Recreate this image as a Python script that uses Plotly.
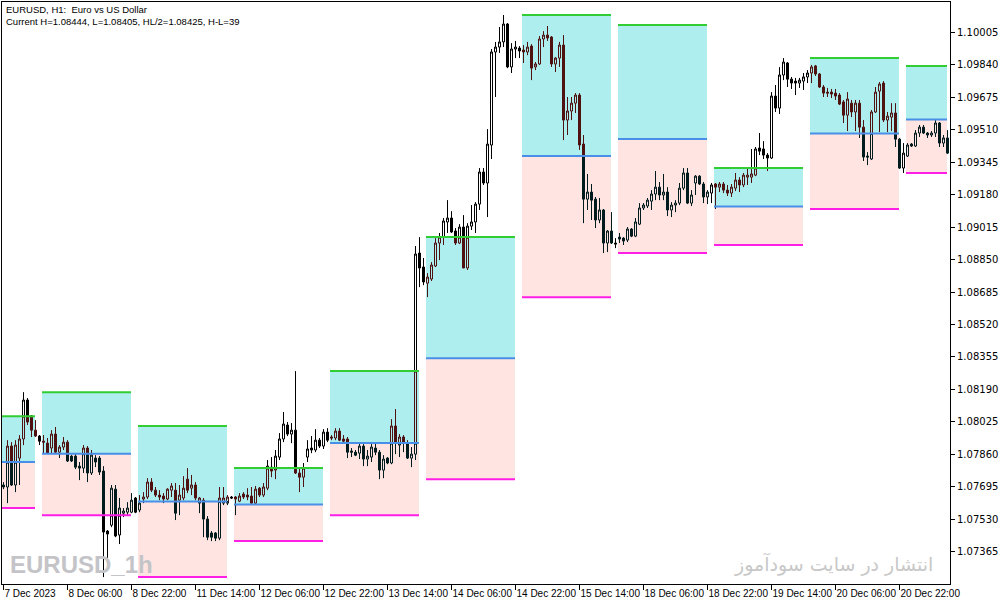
import pandas as pd
import plotly.graph_objects as go

# ---------------- data ----------------
trading_days = ["2023-12-07", "2023-12-08", "2023-12-11", "2023-12-12", "2023-12-13",
                "2023-12-14", "2023-12-15", "2023-12-18", "2023-12-19", "2023-12-20",
                "2023-12-21"]
first_bar_hour = 14   # first visible H1 bar: 7 Dec 14:00
last_bar_hour = 10    # current bar: 21 Dec 10:00

open_ = [
 1.07704, 1.07694, 1.07902, 1.07704, 1.07841, 1.07938, 1.08136, 1.08049, 1.07983, 1.07953,
 1.07927, 1.07917, 1.07892, 1.07963, 1.07871, 1.07897, 1.07922, 1.07851, 1.07851, 1.07800,
 1.07790, 1.07892, 1.07765, 1.07841, 1.07841, 1.07775, 1.07470, 1.07500, 1.07683, 1.07450,
 1.07561, 1.07566, 1.07566, 1.07638, 1.07577, 1.07633, 1.07643, 1.07719, 1.07678, 1.07653,
 1.07648, 1.07633, 1.07678, 1.07678, 1.07627, 1.07638, 1.07734, 1.07688, 1.07704, 1.07612,
 1.07627, 1.07531, 1.07460, 1.07460, 1.07434, 1.07612, 1.07612, 1.07643, 1.07643, 1.07622,
 1.07658, 1.07653, 1.07648, 1.07612, 1.07688, 1.07653, 1.07688, 1.07795, 1.07780, 1.07846,
 1.07938, 1.08009, 1.07963, 1.07983, 1.07765, 1.07744, 1.07846, 1.07892, 1.07882, 1.07932,
 1.07902, 1.07973, 1.07948, 1.07943, 1.07978, 1.07938, 1.07938, 1.07877, 1.07871, 1.07866,
 1.07902, 1.07836, 1.07846, 1.07892, 1.07871, 1.07780, 1.07841, 1.07816, 1.08004, 1.07907,
 1.07948, 1.07917, 1.07841, 1.07861, 1.08883, 1.08812, 1.08730, 1.08751, 1.08817, 1.08934,
 1.08964, 1.09041, 1.09061, 1.08995, 1.08934, 1.09015, 1.08807, 1.09020, 1.09041, 1.09132,
 1.09295, 1.09239, 1.09432, 1.09905, 1.09930, 1.09956, 1.10047, 1.09829, 1.09920, 1.09925,
 1.09915, 1.09905, 1.09935, 1.09829, 1.09844, 1.09971, 1.09991, 1.09981, 1.09844, 1.09874,
 1.09940, 1.09559, 1.09605, 1.09645, 1.09686, 1.09437, 1.09157, 1.09193, 1.09157, 1.09051,
 1.09102, 1.08934, 1.08995, 1.08934, 1.08964, 1.08959, 1.08949, 1.09005, 1.08969, 1.09030,
 1.09112, 1.09122, 1.09147, 1.09183, 1.09218, 1.09178, 1.09193, 1.09102, 1.09127, 1.09137,
 1.09213, 1.09290, 1.09137, 1.09239, 1.09274, 1.09234, 1.09168, 1.09188, 1.09234, 1.09218,
 1.09234, 1.09203, 1.09188, 1.09213, 1.09254, 1.09229, 1.09269, 1.09269, 1.09279, 1.09417,
 1.09412, 1.09381, 1.09366, 1.09681, 1.09620, 1.09788, 1.09849, 1.09767, 1.09757, 1.09747,
 1.09757, 1.09778, 1.09798, 1.09834, 1.09793, 1.09727, 1.09701, 1.09701, 1.09696, 1.09686,
 1.09651, 1.09584, 1.09645, 1.09600, 1.09645, 1.09523, 1.09376, 1.09361, 1.09600, 1.09706,
 1.09747, 1.09559, 1.09574, 1.09595, 1.09462, 1.09315, 1.09376, 1.09437, 1.09427, 1.09493,
 1.09523, 1.09493, 1.09483, 1.09493, 1.09544, 1.09442, 1.09468]
high_ = [
 1.07719, 1.07932, 1.07922, 1.07932, 1.07958, 1.08176, 1.08146, 1.08060, 1.08034, 1.07958,
 1.07958, 1.07943, 1.07983, 1.07999, 1.07907, 1.07948, 1.07932, 1.07856, 1.07861, 1.07821,
 1.07907, 1.07902, 1.07882, 1.07856, 1.07851, 1.07800, 1.07475, 1.07704, 1.07704, 1.07638,
 1.07587, 1.07617, 1.07663, 1.07643, 1.07653, 1.07668, 1.07739, 1.07739, 1.07694, 1.07678,
 1.07663, 1.07688, 1.07714, 1.07714, 1.07704, 1.07749, 1.07790, 1.07755, 1.07719, 1.07643,
 1.07638, 1.07546, 1.07470, 1.07465, 1.07694, 1.07694, 1.07653, 1.07648, 1.07648, 1.07663,
 1.07668, 1.07688, 1.07694, 1.07699, 1.07694, 1.07714, 1.07831, 1.07846, 1.07882, 1.07968,
 1.08075, 1.08024, 1.08019, 1.08283, 1.07790, 1.07816, 1.07932, 1.07953, 1.07988, 1.07943,
 1.07988, 1.07993, 1.07958, 1.07993, 1.07993, 1.07958, 1.07948, 1.07892, 1.07882, 1.07917,
 1.07912, 1.07882, 1.07917, 1.07917, 1.07882, 1.07856, 1.07846, 1.08039, 1.08090, 1.07963,
 1.07958, 1.07932, 1.07897, 1.08919, 1.08964, 1.08858, 1.08781, 1.08837, 1.08959, 1.08985,
 1.09061, 1.09152, 1.09096, 1.09010, 1.09030, 1.09076, 1.09035, 1.09127, 1.09142, 1.09315,
 1.09315, 1.09513, 1.09920, 1.09956, 1.10032, 1.10093, 1.10052, 1.09950, 1.09961, 1.09935,
 1.09940, 1.09956, 1.09945, 1.09854, 1.09986, 1.10011, 1.10037, 1.09986, 1.09879, 1.09956,
 1.09991, 1.09676, 1.09676, 1.09696, 1.09696, 1.09483, 1.09285, 1.09234, 1.09168, 1.09163,
 1.09107, 1.09000, 1.09091, 1.08959, 1.08985, 1.08964, 1.09015, 1.09010, 1.09061, 1.09137,
 1.09137, 1.09163, 1.09203, 1.09300, 1.09244, 1.09285, 1.09218, 1.09142, 1.09152, 1.09239,
 1.09315, 1.09315, 1.09203, 1.09279, 1.09279, 1.09244, 1.09203, 1.09239, 1.09239, 1.09244,
 1.09244, 1.09229, 1.09234, 1.09290, 1.09269, 1.09290, 1.09315, 1.09412, 1.09422, 1.09493,
 1.09452, 1.09391, 1.09701, 1.09737, 1.09828, 1.09874, 1.09854, 1.09778, 1.09773, 1.09773,
 1.09798, 1.09813, 1.09839, 1.09839, 1.09798, 1.09737, 1.09722, 1.09717, 1.09717, 1.09696,
 1.09661, 1.09701, 1.09661, 1.09661, 1.09661, 1.09559, 1.09396, 1.09610, 1.09727, 1.09752,
 1.09757, 1.09600, 1.09645, 1.09645, 1.09468, 1.09442, 1.09442, 1.09442, 1.09508, 1.09534,
 1.09534, 1.09498, 1.09503, 1.09559, 1.09549, 1.09483, 1.09508]
low_ = [
 1.07683, 1.07612, 1.07699, 1.07668, 1.07704, 1.07907, 1.08009, 1.07948, 1.07948, 1.07907,
 1.07866, 1.07866, 1.07866, 1.07866, 1.07841, 1.07882, 1.07821, 1.07821, 1.07785, 1.07729,
 1.07765, 1.07719, 1.07755, 1.07795, 1.07755, 1.07236, 1.07307, 1.07490, 1.07439, 1.07404,
 1.07541, 1.07551, 1.07561, 1.07561, 1.07566, 1.07612, 1.07633, 1.07668, 1.07643, 1.07627,
 1.07612, 1.07627, 1.07643, 1.07526, 1.07551, 1.07627, 1.07663, 1.07653, 1.07627, 1.07561,
 1.07439, 1.07424, 1.07419, 1.07419, 1.07424, 1.07602, 1.07602, 1.07633, 1.07551, 1.07617,
 1.07633, 1.07627, 1.07607, 1.07607, 1.07643, 1.07643, 1.07678, 1.07744, 1.07734, 1.07831,
 1.07922, 1.07953, 1.07917, 1.07760, 1.07668, 1.07694, 1.07821, 1.07866, 1.07871, 1.07892,
 1.07887, 1.07922, 1.07932, 1.07932, 1.07927, 1.07922, 1.07841, 1.07846, 1.07851, 1.07836,
 1.07800, 1.07800, 1.07821, 1.07856, 1.07734, 1.07739, 1.07810, 1.07810, 1.07861, 1.07846,
 1.07871, 1.07836, 1.07795, 1.07831, 1.08710, 1.08720, 1.08659, 1.08741, 1.08812, 1.08847,
 1.08924, 1.08985, 1.08985, 1.08924, 1.08929, 1.08807, 1.08797, 1.09000, 1.08985, 1.09102,
 1.09229, 1.09066, 1.09361, 1.09676, 1.09900, 1.09930, 1.09823, 1.09798, 1.09874, 1.09874,
 1.09849, 1.09889, 1.09762, 1.09813, 1.09839, 1.09930, 1.09961, 1.09829, 1.09803, 1.09829,
 1.09457, 1.09483, 1.09559, 1.09595, 1.09407, 1.09035, 1.09102, 1.09051, 1.09010, 1.09035,
 1.08883, 1.08888, 1.08929, 1.08908, 1.08934, 1.08924, 1.08939, 1.08964, 1.08964, 1.09025,
 1.09102, 1.09112, 1.09102, 1.09152, 1.09152, 1.09152, 1.09071, 1.09066, 1.09091, 1.09127,
 1.09203, 1.09132, 1.09122, 1.09178, 1.09229, 1.09137, 1.09132, 1.09137, 1.09107, 1.09193,
 1.09188, 1.09173, 1.09168, 1.09198, 1.09193, 1.09218, 1.09229, 1.09239, 1.09274, 1.09381,
 1.09361, 1.09300, 1.09361, 1.09600, 1.09590, 1.09762, 1.09727, 1.09717, 1.09686, 1.09722,
 1.09712, 1.09747, 1.09747, 1.09783, 1.09722, 1.09676, 1.09676, 1.09671, 1.09661, 1.09635,
 1.09544, 1.09503, 1.09574, 1.09503, 1.09468, 1.09351, 1.09330, 1.09356, 1.09595, 1.09498,
 1.09549, 1.09498, 1.09503, 1.09422, 1.09310, 1.09290, 1.09371, 1.09422, 1.09422, 1.09473,
 1.09488, 1.09468, 1.09473, 1.09473, 1.09422, 1.09422, 1.09386]
close_ = [
 1.07694, 1.07902, 1.07704, 1.07907, 1.07938, 1.08136, 1.08024, 1.07983, 1.07953, 1.07927,
 1.07922, 1.07866, 1.07963, 1.07871, 1.07897, 1.07922, 1.07826, 1.07826, 1.07795, 1.07790,
 1.07892, 1.07765, 1.07856, 1.07821, 1.07770, 1.07465, 1.07455, 1.07688, 1.07445, 1.07587,
 1.07572, 1.07587, 1.07627, 1.07566, 1.07612, 1.07643, 1.07719, 1.07678, 1.07653, 1.07643,
 1.07633, 1.07683, 1.07699, 1.07561, 1.07653, 1.07688, 1.07678, 1.07704, 1.07638, 1.07638,
 1.07531, 1.07439, 1.07439, 1.07434, 1.07638, 1.07638, 1.07643, 1.07638, 1.07633, 1.07648,
 1.07643, 1.07643, 1.07612, 1.07683, 1.07653, 1.07694, 1.07800, 1.07775, 1.07851, 1.07938,
 1.08014, 1.07963, 1.07983, 1.07765, 1.07744, 1.07790, 1.07887, 1.07882, 1.07932, 1.07902,
 1.07973, 1.07932, 1.07943, 1.07978, 1.07932, 1.07927, 1.07871, 1.07871, 1.07856, 1.07902,
 1.07836, 1.07851, 1.07897, 1.07871, 1.07780, 1.07836, 1.07816, 1.08004, 1.07917, 1.07948,
 1.07922, 1.07841, 1.07861, 1.08878, 1.08807, 1.08736, 1.08761, 1.08822, 1.08934, 1.08964,
 1.09046, 1.09061, 1.08990, 1.08934, 1.09015, 1.08807, 1.09020, 1.09041, 1.09132, 1.09295,
 1.09239, 1.09437, 1.09905, 1.09930, 1.09956, 1.10047, 1.09829, 1.09920, 1.09930, 1.09910,
 1.09905, 1.09930, 1.09823, 1.09844, 1.09971, 1.09991, 1.09976, 1.09844, 1.09874, 1.09940,
 1.09559, 1.09605, 1.09645, 1.09686, 1.09432, 1.09157, 1.09193, 1.09152, 1.09051, 1.09102,
 1.08934, 1.08995, 1.08934, 1.08929, 1.08954, 1.08944, 1.09005, 1.08969, 1.09041, 1.09112,
 1.09127, 1.09152, 1.09183, 1.09218, 1.09178, 1.09193, 1.09102, 1.09127, 1.09137, 1.09213,
 1.09290, 1.09137, 1.09178, 1.09274, 1.09234, 1.09168, 1.09193, 1.09229, 1.09218, 1.09234,
 1.09203, 1.09188, 1.09218, 1.09254, 1.09229, 1.09279, 1.09279, 1.09285, 1.09412, 1.09401,
 1.09381, 1.09366, 1.09681, 1.09620, 1.09788, 1.09854, 1.09767, 1.09747, 1.09747, 1.09762,
 1.09778, 1.09798, 1.09829, 1.09793, 1.09727, 1.09696, 1.09696, 1.09691, 1.09681, 1.09640,
 1.09584, 1.09666, 1.09600, 1.09645, 1.09523, 1.09371, 1.09371, 1.09600, 1.09701, 1.09742,
 1.09559, 1.09579, 1.09595, 1.09462, 1.09315, 1.09391, 1.09432, 1.09427, 1.09493, 1.09523,
 1.09493, 1.09483, 1.09493, 1.09544, 1.09442, 1.09468, 1.09391]

# previous-day high / low drawn over each trading day (from the indicator boxes)
prev_day_high = [1.08054, 1.08176, 1.08004, 1.07790, 1.08283, 1.08964,
                 1.10093, 1.10042, 1.09315, 1.09874, 1.09834]
prev_day_low = [1.07587, 1.07551, 1.07236, 1.07419, 1.07551, 1.07734,
                1.08659, 1.08883, 1.08924, 1.09107, 1.09290]

y_ticks = [1.07365, 1.07530, 1.07695, 1.07860, 1.08025, 1.08190, 1.08355, 1.08520, 1.08685,
           1.08850, 1.09015, 1.09180, 1.09345, 1.09510, 1.09675, 1.09840, 1.10005]
x_tick_labels = ["7 Dec 2023", "8 Dec 06:00", "8 Dec 22:00", "11 Dec 14:00", "12 Dec 06:00",
                 "12 Dec 22:00", "13 Dec 14:00", "14 Dec 06:00", "14 Dec 22:00", "15 Dec 14:00",
                 "18 Dec 06:00", "18 Dec 22:00", "19 Dec 14:00", "20 Dec 06:00", "20 Dec 22:00"]
x_tick_step = 16

header_lines = ["EURUSD, H1:&nbsp; Euro vs US Dollar",
                "Current H=1.08444, L=1.08405, HL/2=1.08425, H-L=39"]
watermark_left = "EURUSD_1h"
watermark_right = "انتشار در سایت سودآموز"

# ---------------- styles ----------------
C_UP_FILL = "#AFEEEE"
C_DN_FILL = "#FFE4E1"
C_TOP = "#32CD32"
C_MID = "#4A8FE7"
C_BOT = "#FF1EE6"
C_CANDLE = "black"
C_CANDLE_UP = "#501111"
C_CANDLE_DN = "#001B1E"

# ---------------- build bar timeline ----------------
times = []
for k, d in enumerate(trading_days):
    h0 = first_bar_hour if k == 0 else 0
    h1 = last_bar_hour if k == len(trading_days) - 1 else 23
    times += [pd.Timestamp(d) + pd.Timedelta(hours=h) for h in range(h0, h1 + 1)]
n = len(times)

boxes = []
for k, d in enumerate(trading_days):
    day = pd.Timestamp(d).date()
    idx = next(i for i, t in enumerate(times) if t.date() == day)
    start = idx - times[idx].hour            # position of 00:00 of that day
    end = min(start + 22, n - 1)             # to 22:00 (or the current bar)
    hi, lo = prev_day_high[k], prev_day_low[k]
    boxes.append(dict(start=start, end=end, hi=hi, lo=lo, mid=(hi + lo) / 2))

# ---------------- split candles by background zone ----------------
segs = {c: dict(x=[], o=[], h=[], l=[], c=[]) for c in (C_CANDLE, C_CANDLE_UP, C_CANDLE_DN)}


def add(col, i, o, h, l, c):
    s = segs[col]
    s["x"].append(i); s["o"].append(o); s["h"].append(h); s["l"].append(l); s["c"].append(c)


INF = 10.0
for i in range(n):
    o, h, l, c = open_[i], high_[i], low_[i], close_[i]
    b = next((bx for bx in boxes if bx["start"] <= i <= bx["end"]), None)
    if b is None:
        add(C_CANDLE, i, o, h, l, c)
        continue
    zones = [(b["hi"], INF, C_CANDLE), (b["mid"], b["hi"], C_CANDLE_UP),
             (b["lo"], b["mid"], C_CANDLE_DN), (-INF, b["lo"], C_CANDLE)]
    for zlo, zhi, col in zones:
        if h > zlo and l < zhi:
            cl = lambda v: min(max(v, zlo), zhi)
            add(col, i, cl(o), cl(h), cl(l), cl(c))

fig = go.Figure()

fill_for = {C_CANDLE: "white", C_CANDLE_UP: C_UP_FILL, C_CANDLE_DN: C_DN_FILL}
for col, s in segs.items():
    if not s["x"]:
        continue
    fig.add_trace(go.Candlestick(
        x=s["x"], open=s["o"], high=s["h"], low=s["l"], close=s["c"],
        increasing=dict(line=dict(color=col, width=1), fillcolor=fill_for[col]),
        decreasing=dict(line=dict(color=col, width=1), fillcolor=col),
        whiskerwidth=0, hoverinfo="skip", showlegend=False))

# boxes
for b in boxes:
    x0, x1 = b["start"] - 0.375, b["end"] - 0.125
    fig.add_shape(type="rect", xref="x", yref="y", x0=x0, x1=x1, y0=b["mid"], y1=b["hi"],
                  fillcolor=C_UP_FILL, line=dict(width=0), layer="below")
    fig.add_shape(type="rect", xref="x", yref="y", x0=x0, x1=x1, y0=b["lo"], y1=b["mid"],
                  fillcolor=C_DN_FILL, line=dict(width=0), layer="below")
    for yv, colr in ((b["hi"], C_TOP), (b["mid"], C_MID), (b["lo"], C_BOT)):
        fig.add_shape(type="line", xref="x", yref="y", x0=x0, x1=x1, y0=yv, y1=yv,
                      line=dict(color=colr, width=2), layer="above")

# texts
fig.add_annotation(xref="paper", yref="paper", x=0.002, y=1.0, xanchor="left", yanchor="top",
                   text="<br>".join(header_lines), align="left", showarrow=False,
                   font=dict(family="Liberation Sans, Arial", size=9.5, color="black"))
fig.add_annotation(xref="paper", yref="paper", x=0.006, y=0.033, xanchor="left", yanchor="middle",
                   text="<b>" + watermark_left + "</b>", showarrow=False,
                   font=dict(family="Liberation Sans Narrow, Liberation Sans", size=24, color="#C4C4C8"))
fig.add_annotation(xref="paper", yref="paper", x=0.9842, y=0.035, xanchor="right", yanchor="middle",
                   text=watermark_right, showarrow=False,
                   font=dict(family="DejaVu Sans", size=19, color="#C8C8C8"))

tick_pos = list(range(0, n, x_tick_step))[:len(x_tick_labels)]
fig.update_layout(
    width=1003, height=605,
    margin=dict(l=2, r=53, t=2, b=21, autoexpand=False),
    paper_bgcolor="white", plot_bgcolor="white",
    boxgap=0.5, boxgroupgap=0,
    showlegend=False,
    xaxis=dict(range=[-0.375, -0.375 + 948 / 4], tickvals=tick_pos, ticktext=x_tick_labels,
               ticks="outside", ticklen=5, tickcolor="black", showline=True, linecolor="black",
               linewidth=1, mirror=True, showgrid=False, zeroline=False,
               ticklabelposition="outside right", tickangle=0, automargin=False,
               tickfont=dict(family="Liberation Sans, Arial", size=10, color="black"),
               rangeslider=dict(visible=False), fixedrange=True),
    yaxis=dict(range=[1.07201, 1.10159], side="right", tickvals=y_ticks,
               ticktext=[f"{v:.5f}" for v in y_ticks], automargin=False,
               ticks="outside", ticklen=4, tickcolor="black", showline=True, linecolor="black",
               linewidth=1, mirror=True, showgrid=False, zeroline=False,
               tickfont=dict(family="DejaVu Sans", size=10, color="black"), fixedrange=True),
)

fig.write_html("out.html", config={"displayModeBar": False},
               post_script="document.body.style.margin='0';document.body.style.overflow='hidden';")
